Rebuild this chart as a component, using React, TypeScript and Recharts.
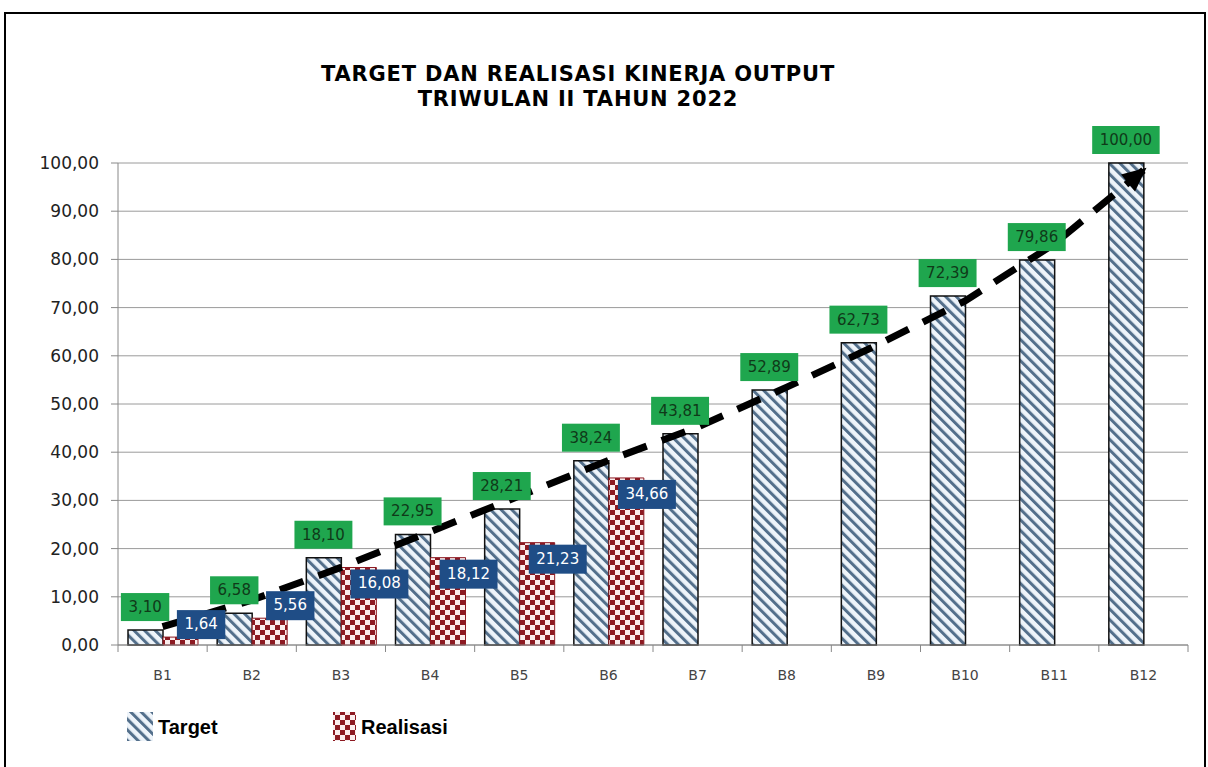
import React from 'react';
import { ComposedChart, Bar, Line, XAxis, YAxis, CartesianGrid, LabelList } from 'recharts';

const months = ['B1', 'B2', 'B3', 'B4', 'B5', 'B6', 'B7', 'B8', 'B9', 'B10', 'B11', 'B12'];
const target = [3.1, 6.58, 18.1, 22.95, 28.21, 38.24, 43.81, 52.89, 62.73, 72.39, 79.86, 100.0];
const realisasi = [1.64, 5.56, 16.08, 18.12, 21.23, 34.66, null, null, null, null, null, null];
// hand drawn trend arrow at each month
const trend = [3.8, 9.3, 16.1, 23.5, 30.9, 38.3, 45.2, 53.5, 62.1, 71.4, 83.2, 98.5];
const yTicks = [0, 10, 20, 30, 40, 50, 60, 70, 80, 90, 100];

const data = months.map((m, i) => ({
  name: m,
  target: target[i],
  realisasi: realisasi[i],
  trend: trend[i],
}));

const BAR = 35;
const fmt = (v: number) => v.toFixed(2).replace('.', ',');
const LABEL_FONT = '"DejaVu Sans", Verdana, sans-serif';

const textW = (s: string) => {
  let w = 0;
  for (const c of s) w += c === ',' ? 0.318 : 0.636;
  return w * 15;
};

// labels hang on invisible lines so they sit above the dashed arrow
const TargetLabel = (props: any) => {
  const { x, y, value } = props;
  if (value == null) return null;
  const s = fmt(Number(value));
  const w = textW(s) + 15;
  const cx = Number(x) - BAR / 2;
  const top = Number(y) - 37;
  return (
    <g>
      <rect x={cx - w / 2} y={top} width={w} height={28} fill="#1fa64e" />
      <text x={cx} y={top + 19} textAnchor="middle" fontSize={15} fontFamily={LABEL_FONT} fill="#0f3a19">
        {s}
      </text>
    </g>
  );
};

const RealLabel = (props: any) => {
  const { x, y, value } = props;
  if (value == null) return null;
  const s = fmt(Number(value));
  const w = textW(s) + 15;
  const cx = Number(x) + BAR / 2 + 21;
  const cy = Number(value) < 8 ? Number(y) - 13 : Number(y) + 16;
  return (
    <g>
      <rect x={cx - w / 2} y={cy - 14} width={w} height={29} fill="#1f4d86" />
      <text x={cx} y={cy + 5} textAnchor="middle" fontSize={15} fontFamily={LABEL_FONT} fill="#ffffff">
        {s}
      </text>
    </g>
  );
};

const ArrowDot = (props: any) => {
  const { cx, cy, index, points } = props;
  if (index !== months.length - 1) return <g key={`d-${index}`} />;
  let ang = -40;
  if (points && points.length > 1) {
    const p = points[points.length - 2];
    ang = (Math.atan2(cy - p.y, cx - p.x) * 180) / Math.PI;
  }
  return (
    <polygon
      key={`d-${index}`}
      points="4,0 -20,-11 -20,11"
      fill="#000"
      transform={`translate(${cx},${cy}) rotate(${ang})`}
    />
  );
};

const XTick = (props: any) => {
  const { x, y, payload, index } = props;
  const band = (1188 - 118) / months.length;
  return (
    <g>
      <line x1={x - band / 2} x2={x - band / 2} y1={y - 8} y2={y - 1} stroke="#888" />
      {index === months.length - 1 && (
        <line x1={x + band / 2} x2={x + band / 2} y1={y - 8} y2={y - 1} stroke="#888" />
      )}
      <text x={x} y={y + 27} textAnchor="middle" fontSize={14} fontFamily={LABEL_FONT} fill="#444">
        {payload.value}
      </text>
    </g>
  );
};

export default function App() {
  return (
    <div style={{ position: 'fixed', left: 0, top: 0, width: 1208, height: 767, background: '#fff', overflow: 'hidden' }}>
      <div
        style={{
          position: 'absolute',
          left: 4,
          top: 12,
          width: 1198,
          height: 780,
          border: '2px solid #000',
        }}
      />
      <div style={{ position: 'absolute', left: 0, top: 0 }}>
        <ComposedChart
          width={1208}
          height={767}
          data={data}
          margin={{ top: 163, right: 20, bottom: 92, left: 58 }}
          barGap={0}
        >
          <defs>
            <pattern id="stripes" patternUnits="userSpaceOnUse" width="7.5" height="7.5" patternTransform="rotate(-45)">
              <rect width="7.5" height="7.5" fill="#eef4fa" />
              <rect width="3" height="7.5" fill="#536f8b" />
            </pattern>
            <pattern id="checker" patternUnits="userSpaceOnUse" width="10" height="10">
              <rect width="10" height="10" fill="#fbeeee" />
              <rect width="5" height="5" fill="#8d1a22" />
              <rect x="5" y="5" width="5" height="5" fill="#8d1a22" />
            </pattern>
          </defs>
          <text x={578} y={81} textAnchor="middle" fontSize={21} letterSpacing={0.8} fontWeight="bold" fontFamily={LABEL_FONT} fill="#000">
            TARGET DAN REALISASI KINERJA OUTPUT
          </text>
          <text x={578} y={106} textAnchor="middle" fontSize={21} letterSpacing={0.8} fontWeight="bold" fontFamily={LABEL_FONT} fill="#000">
            TRIWULAN II TAHUN 2022
          </text>
          <CartesianGrid vertical={false} stroke="#9a9a9a" />
          <XAxis
            dataKey="name"
            tick={<XTick />}
            tickLine={false}
            stroke="#888"
            height={30}
          />
          <YAxis
            domain={[0, 100]}
            ticks={yTicks}
            tickFormatter={fmt}
            width={60}
            stroke="#888"
            tickSize={7}
            tickMargin={12}
            tick={{ fill: '#222', fontSize: 17, fontFamily: LABEL_FONT }}
          />
          <Bar dataKey="target" barSize={BAR} fill="url(#stripes)" stroke="#111" strokeWidth={1.5} isAnimationActive={false} />
          <Bar dataKey="realisasi" barSize={BAR} fill="url(#checker)" stroke="#8d1a22" strokeWidth={1} isAnimationActive={false} />
          <Line
            dataKey="trend"
            type="linear"
            stroke="#000"
            strokeWidth={7}
            strokeDasharray="25 16"
            dot={ArrowDot}
            activeDot={false}
            isAnimationActive={false}
          />
          <Line dataKey="target" stroke="none" dot={false} activeDot={false} isAnimationActive={false}>
            <LabelList dataKey="target" content={<TargetLabel />} />
          </Line>
          <Line dataKey="realisasi" stroke="none" dot={false} activeDot={false} isAnimationActive={false}>
            <LabelList dataKey="realisasi" content={<RealLabel />} />
          </Line>
          <g>
            <rect x={127} y={712} width={26} height={29} fill="url(#stripes)" />
            <text x={158} y={734} fontSize={20} fontWeight="bold" fontFamily='"Liberation Sans", Arial, sans-serif' fill="#000">
              Target
            </text>
            <rect x={333} y={712} width={23} height={29} fill="url(#checker)" />
            <text x={361} y={734} fontSize={20} fontWeight="bold" fontFamily='"Liberation Sans", Arial, sans-serif' fill="#000">
              Realisasi
            </text>
          </g>
        </ComposedChart>
      </div>
    </div>
  );
}
